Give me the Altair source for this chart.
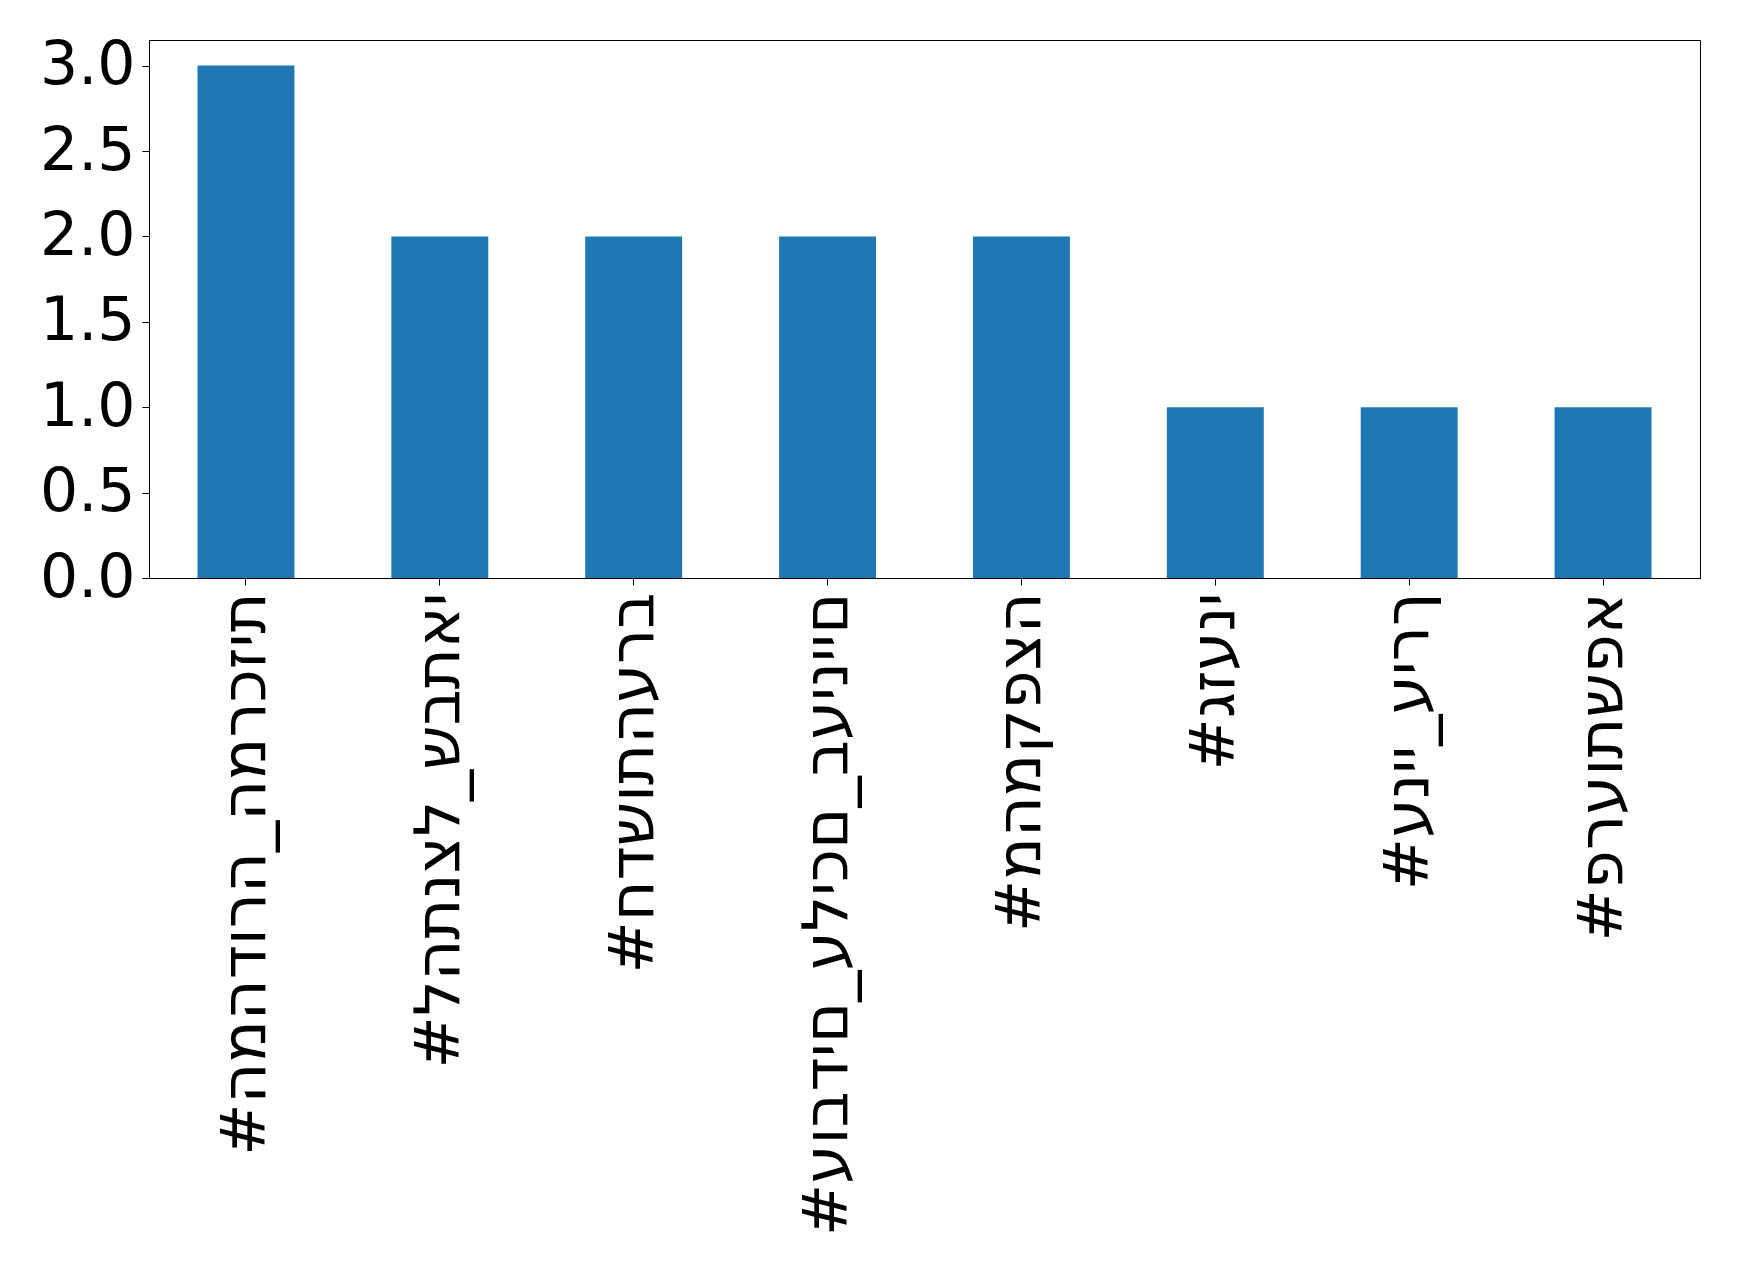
import altair as alt
import pandas as pd

# Hashtag counts
hashtags = [
    "#המהדורה_המרכזית",
    "#להתנצל_שבתאי",
    "#חדשותהערב",
    "#עובדים_עליכם_בעיניים",
    "#מהמקפצה",
    "#גזעני",
    "#עניי_עירך",
    "#פרעותשפא",
]
counts = [3, 2, 2, 2, 2, 1, 1, 1]
y_ticks = [0.0, 0.5, 1.0, 1.5, 2.0, 2.5, 3.0]

df = pd.DataFrame({"hashtag": hashtags, "count": counts})

FONT = "DejaVu Sans"

chart = (
    alt.Chart(df)
    .mark_bar(color="#1f77b4")
    .encode(
        x=alt.X(
            "hashtag:N",
            sort=None,
            title=None,
            scale=alt.Scale(paddingInner=0.5, paddingOuter=0.25),
            axis=alt.Axis(
                labelAngle=270,
                labelFont=FONT,
                labelFontSize=62.5,
                labelColor="black",
                labelPadding=7,
                tickSize=7,
                tickColor="black",
                domainColor="black",
                labelLimit=0,
                labelExpr="'\u202d' + datum.label",
            ),
        ),
        y=alt.Y(
            "count:Q",
            title=None,
            scale=alt.Scale(domain=[0, 3.15], nice=False, zero=True),
            axis=alt.Axis(
                values=y_ticks,
                format=".1f",
                labelFont=FONT,
                labelFontSize=60,
                labelColor="black",
                labelPadding=7,
                tickSize=7,
                tickColor="black",
                domainColor="black",
                grid=False,
            ),
        ),
    )
    .properties(
        width=1551,
        height=538,
        autosize=alt.AutoSizeParams(type="none"),
        padding={"left": 149, "top": 40, "right": 39, "bottom": 693},
    )
    .configure(background="white")
    .configure_view(stroke="black", strokeWidth=1)
)

chart.save("out.html", embed_options={"renderer": "svg", "actions": False})
